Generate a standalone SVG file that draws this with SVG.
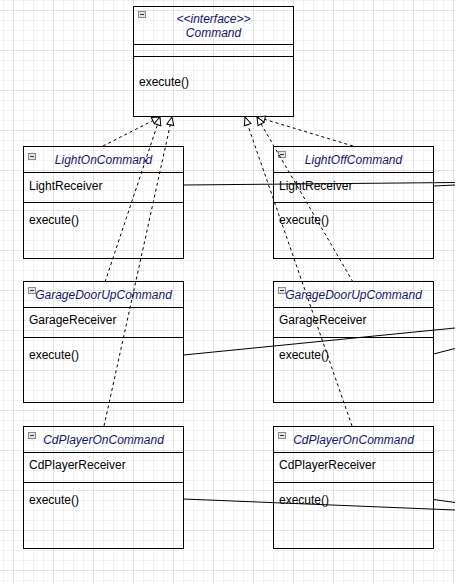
<svg xmlns="http://www.w3.org/2000/svg" width="455" height="583" viewBox="0 0 455 583">
<style>
.box{fill:none;stroke:#000;stroke-width:1}
.div{stroke:#000;stroke-width:1}
.nm{font-family:"Liberation Sans",Arial,sans-serif;font-size:12px;font-style:italic;fill:#14146e;text-anchor:middle}
.tx{font-family:"Liberation Sans",Arial,sans-serif;font-size:12px;fill:#000}
.dash{fill:none;stroke:#000;stroke-width:1;stroke-dasharray:3,3}
.sol{fill:none;stroke:#000;stroke-width:1}
.ic{fill:#e4e4e4;stroke:#8a8a8a;stroke-width:1}
.icm{stroke:#333;stroke-width:1}
</style>
<defs>
<pattern id="grid" patternUnits="userSpaceOnUse" x="13" y="10" width="40" height="40">
<path d="M10.5 0V40M20.5 0V40M30.5 0V40M0 10.5H40M0 20.5H40M0 30.5H40" stroke="#f1f1f1" stroke-width="1" fill="none"/>
<path d="M0.5 0V40M0 0.5H40" stroke="#e2e2e2" stroke-width="1" fill="none"/>
</pattern>
<marker id="tri" markerUnits="userSpaceOnUse" markerWidth="12" markerHeight="12" refX="9" refY="5" orient="auto" viewBox="0 0 12 10">
<path d="M1 1.5L9 5L1 8.5Z" fill="#fff" stroke="#000" stroke-width="1"/>
</marker>
<symbol id="icon" overflow="visible">
<rect class="ic" x="0.5" y="0.5" width="7" height="6"/>
<path class="icm" d="M2 3.5H6"/>
</symbol>
</defs>
<rect width="455" height="583" fill="#fff"/>
<rect width="455" height="583" fill="url(#grid)"/>

<g id="command">
<rect class="box" x="133.5" y="6.5" width="160" height="110"/>
<path class="div" d="M133.5 44.5H293.5M133.5 56.5H293.5"/>
<use href="#icon" x="138" y="11"/>
<text class="nm" x="213.5" y="23">&lt;&lt;interface&gt;&gt;</text>
<text class="nm" x="213.5" y="37">Command</text>
<text class="tx" x="139" y="86">execute()</text>
</g>

<g id="lightOn">
<rect class="box" x="23.5" y="146.5" width="160" height="112"/>
<path class="div" d="M23.5 172.5H183.5M23.5 202.5H183.5"/>
<use href="#icon" x="28" y="153"/>
<text class="nm" x="103.5" y="164">LightOnCommand</text>
<text class="tx" x="29" y="190">LightReceiver</text>
<text class="tx" x="29" y="224">execute()</text>
</g>

<g id="lightOff">
<rect class="box" x="273.5" y="146.5" width="160" height="112"/>
<path class="div" d="M273.5 172.5H433.5M273.5 202.5H433.5"/>
<use href="#icon" x="278" y="151"/>
<text class="nm" x="353.5" y="164">LightOffCommand</text>
<text class="tx" x="279" y="190">LightReceiver</text>
<text class="tx" x="279" y="224">execute()</text>
</g>

<g id="garageLeft">
<rect class="box" x="23.5" y="281.5" width="160" height="121"/>
<path class="div" d="M23.5 307.5H183.5M23.5 337.5H183.5"/>
<use href="#icon" x="28" y="287"/>
<text class="nm" x="103.5" y="299">GarageDoorUpCommand</text>
<text class="tx" x="29" y="324">GarageReceiver</text>
<text class="tx" x="29" y="359">execute()</text>
</g>

<g id="garageRight">
<rect class="box" x="273.5" y="281.5" width="160" height="121"/>
<path class="div" d="M273.5 307.5H433.5M273.5 337.5H433.5"/>
<use href="#icon" x="278" y="287"/>
<text class="nm" x="353.5" y="299">GarageDoorUpCommand</text>
<text class="tx" x="279" y="324">GarageReceiver</text>
<text class="tx" x="279" y="359">execute()</text>
</g>

<g id="cdLeft">
<rect class="box" x="23.5" y="426.5" width="160" height="122"/>
<path class="div" d="M23.5 452.5H183.5M23.5 482.5H183.5"/>
<use href="#icon" x="28" y="432"/>
<text class="nm" x="103.5" y="444">CdPlayerOnCommand</text>
<text class="tx" x="29" y="469">CdPlayerReceiver</text>
<text class="tx" x="29" y="504">execute()</text>
</g>

<g id="cdRight">
<rect class="box" x="273.5" y="426.5" width="160" height="122"/>
<path class="div" d="M273.5 452.5H433.5M273.5 482.5H433.5"/>
<use href="#icon" x="278" y="432"/>
<text class="nm" x="353.5" y="444">CdPlayerOnCommand</text>
<text class="tx" x="279" y="469">CdPlayerReceiver</text>
<text class="tx" x="279" y="504">execute()</text>
</g>

<g id="connectors">
<path class="dash" d="M103 146L160 117" marker-end="url(#tri)"/>
<path class="dash" d="M105 282L160 117" marker-end="url(#tri)"/>
<path class="dash" d="M104 426L172 117" marker-end="url(#tri)"/>
<path class="dash" d="M353 146L257 117" marker-end="url(#tri)"/>
<path class="dash" d="M353 282L257 117" marker-end="url(#tri)"/>
<path class="dash" d="M352 426L245 117" marker-end="url(#tri)"/>
<path class="sol" d="M183.5 185L455 182.5"/>
<path class="sol" d="M433.5 186L455 185"/>
<path class="sol" d="M183.5 355L455 328"/>
<path class="sol" d="M433.5 354L455 348.5"/>
<path class="sol" d="M183.5 499L455 510"/>
<path class="sol" d="M433.5 499.5L455 502.5"/>
</g>
</svg>
